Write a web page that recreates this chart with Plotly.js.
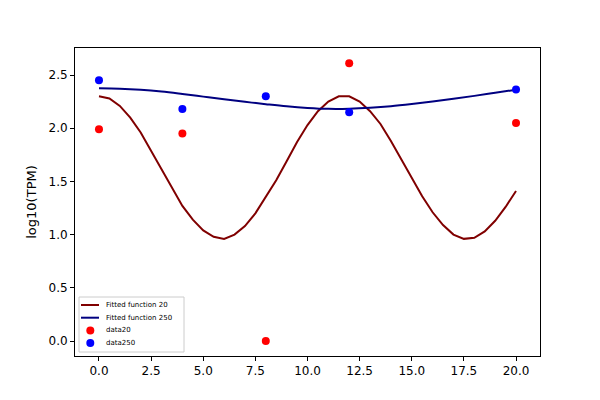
<!DOCTYPE html>
<html>
<head>
<meta charset="utf-8">
<script src="https://cdn.plot.ly/plotly-3.0.1.min.js"></script>
<style>
  html, body { margin: 0; padding: 0; background: #fff; }
  #chart { width: 600px; height: 400px; }
</style>
</head>
<body>
<div id="chart"></div>
<script>
// sample times (hours)
const dataX = [0, 4, 8, 12, 20];
const data20 = [1.99, 1.95, 0.0, 2.61, 2.05];
const data250 = [2.45, 2.18, 2.30, 2.15, 2.365];

// fitted curves
const fit20X = [0, 0.5, 1, 1.5, 2, 2.5, 3, 3.5, 4, 4.5, 5, 5.5, 6, 6.5, 7, 7.5, 8, 8.5, 9, 9.5,
                10, 10.5, 11, 11.5, 12, 12.5, 13, 13.5, 14, 14.5, 15, 15.5, 16, 16.5, 17, 17.5,
                18, 18.5, 19, 19.5, 20];
const fit20Y = [2.30, 2.28, 2.21, 2.10, 1.96, 1.79, 1.61, 1.44, 1.27, 1.14, 1.04, 0.98, 0.96, 1.00,
                1.08, 1.20, 1.35, 1.51, 1.69, 1.87, 2.03, 2.16, 2.25, 2.30, 2.30, 2.25, 2.16, 2.04,
                1.88, 1.71, 1.53, 1.36, 1.21, 1.09, 1.00, 0.96, 0.97, 1.03, 1.13, 1.26, 1.41];
const fit250X = [0, 1, 2, 3, 4, 5, 6, 7, 8, 9, 10, 11, 12, 13, 14, 15, 16, 17, 18, 19, 20];
const fit250Y = [2.375, 2.372, 2.362, 2.345, 2.322, 2.297, 2.272, 2.248, 2.226, 2.206, 2.191,
                 2.182, 2.183, 2.192, 2.207, 2.228, 2.252, 2.278, 2.304, 2.333, 2.362];

const xTicks = [0, 2.5, 5, 7.5, 10, 12.5, 15, 17.5, 20];
const xTickText = ['0.0', '2.5', '5.0', '7.5', '10.0', '12.5', '15.0', '17.5', '20.0'];
const yTicks = [0, 0.5, 1, 1.5, 2, 2.5];
const yTickText = ['0.0', '0.5', '1.0', '1.5', '2.0', '2.5'];

const seriesNames = ['Fitted function 20', 'Fitted function 250', 'data20', 'data250'];
const seriesColors = ['#800000', '#000080', '#ff0000', '#0000ff'];
const seriesKinds = ['line', 'line', 'dot', 'dot'];

const traces = [
  { x: fit20X, y: fit20Y, mode: 'lines', type: 'scatter', name: seriesNames[0],
    line: { color: seriesColors[0], width: 2 } },
  { x: fit250X, y: fit250Y, mode: 'lines', type: 'scatter', name: seriesNames[1],
    line: { color: seriesColors[1], width: 2, shape: 'spline' } },
  { x: dataX, y: data20, mode: 'markers', type: 'scatter', name: seriesNames[2],
    marker: { color: seriesColors[2], size: 8 } },
  { x: dataX, y: data250, mode: 'markers', type: 'scatter', name: seriesNames[3],
    marker: { color: seriesColors[3], size: 8 } }
];

// matplotlib-style compact legend (plotly's own legend rows are too tall at 7px)
// plot area is 465 x 308 px, legend box sits in the lower-left corner
const pw = 465, ph = 308;
const px = v => v / pw, py = v => v / ph;
const shapes = [{
  type: 'rect', xref: 'paper', yref: 'paper',
  x0: px(4), x1: px(109), y0: py(4), y1: py(59),
  line: { color: '#cccccc', width: 1 }, fillcolor: 'rgba(255,255,255,0.8)', layer: 'above'
}];
const annotations = [];
seriesNames.forEach((name, i) => {
  const yc = py(51 - i * 12.7);
  if (seriesKinds[i] === 'line') {
    shapes.push({ type: 'line', xref: 'paper', yref: 'paper', layer: 'above',
      x0: px(6), x1: px(24), y0: yc, y1: yc, line: { color: seriesColors[i], width: 2 } });
  } else {
    shapes.push({ type: 'circle', xref: 'paper', yref: 'paper', layer: 'above',
      xsizemode: 'pixel', ysizemode: 'pixel', xanchor: px(15.3), yanchor: yc,
      x0: -4, x1: 4, y0: -4, y1: 4, fillcolor: seriesColors[i], line: { width: 0 } });
  }
  annotations.push({ xref: 'paper', yref: 'paper', x: px(29), y: yc,
    xanchor: 'left', yanchor: 'middle', showarrow: false, text: name,
    font: { family: 'DejaVu Sans', size: 7, color: '#000' } });
});

const axisCommon = {
  showgrid: false, zeroline: false, showline: true, mirror: true,
  linecolor: '#000', linewidth: 1, ticks: 'outside', ticklen: 4, tickcolor: '#000',
  tickfont: { family: 'DejaVu Sans', size: 12, color: '#000' }
};

const layout = {
  width: 600, height: 400,
  margin: { l: 75, r: 60, t: 48, b: 44 },
  paper_bgcolor: '#fff', plot_bgcolor: '#fff',
  font: { family: 'DejaVu Sans', color: '#000' },
  xaxis: Object.assign({}, axisCommon, {
    range: [-1.15, 21.15], tickvals: xTicks, ticktext: xTickText
  }),
  yaxis: Object.assign({}, axisCommon, {
    range: [-0.141, 2.754], tickvals: yTicks, ticktext: yTickText,
    title: { text: 'log10(TPM)', font: { size: 13 }, standoff: 8 }
  }),
  showlegend: false,
  shapes: shapes,
  annotations: annotations
};

Plotly.newPlot('chart', traces, layout, { displayModeBar: false, staticPlot: true });
</script>
</body>
</html>
